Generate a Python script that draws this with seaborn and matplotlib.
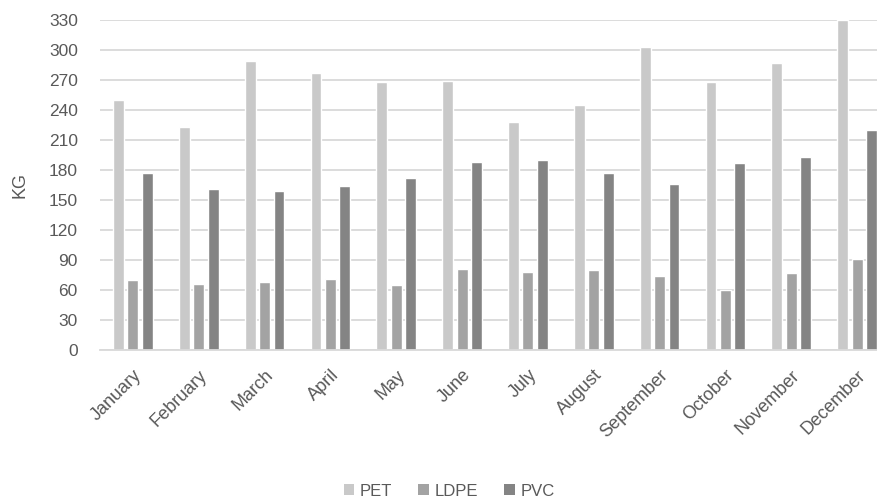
import matplotlib
matplotlib.use("Agg")
import matplotlib.pyplot as plt
import seaborn as sns
import pandas as pd
from matplotlib.patches import Patch

months = ["January", "February", "March", "April", "May", "June", "July",
          "August", "September", "October", "November", "December"]
materials = ["PET", "LDPE", "PVC"]
pet = [250, 223, 289, 277, 268, 269, 228, 245, 303, 268, 287, 330]
ldpe = [70, 66, 68, 71, 65, 81, 78, 80, 74, 60, 77, 91]
pvc = [177, 161, 159, 164, 172, 188, 190, 177, 166, 187, 193, 220]
yticks = list(range(0, 331, 30))
colors = ["#c9c9c9", "#a3a3a3", "#848484"]

df = pd.DataFrame({
    "month": months * 3,
    "kg": pet + ldpe + pvc,
    "material": [m for m in materials for _ in months],
})

sns.set_theme(style="white")
plt.rcParams["font.family"] = ["Liberation Sans", "DejaVu Sans"]

fig = plt.figure(figsize=(8.78, 5.01), dpi=100)
W, H = 878, 501
ax = fig.add_axes([100 / W, (H - 350) / H, 790 / W, 330 / H])

sns.barplot(data=df, x="month", y="kg", hue="material", order=months,
            hue_order=materials, palette=colors, width=0.66, gap=0.25,
            saturation=1, ax=ax, legend=False)

ax.set_ylim(0, 330)
ax.set_xlim(-0.5, 11.5)
ax.set_yticks(yticks)
ax.set_yticklabels([str(t) for t in yticks])
ax.yaxis.grid(True, color="#d9d9d9", linewidth=1.3)
ax.set_axisbelow(True)
for s in ["top", "right", "left"]:
    ax.spines[s].set_visible(False)
ax.spines["bottom"].set_color("#d9d9d9")
ax.spines["bottom"].set_linewidth(1.3)
ax.tick_params(axis="both", length=0, colors="#595959")
ax.tick_params(axis="y", pad=16, labelsize=12.5)
ax.tick_params(axis="x", pad=12, labelsize=13)
plt.setp(ax.get_xticklabels(), rotation=45, ha="right", rotation_mode="anchor")
ax.set_xlabel("")
ax.set_ylabel("KG", color="#595959", fontsize=13)
ax.yaxis.set_label_coords(-72 / 790, 0.5)

handles = [Patch(facecolor=c, edgecolor="none") for c in colors]
fig.legend(handles, materials, loc="center", bbox_to_anchor=(449 / W, 1 - 491 / H),
           ncol=3, frameon=False, fontsize=12, labelcolor="#595959",
           handlelength=0.65, handleheight=0.65, handletextpad=0.3, columnspacing=1.6)

fig.savefig("out.png", dpi=100)
